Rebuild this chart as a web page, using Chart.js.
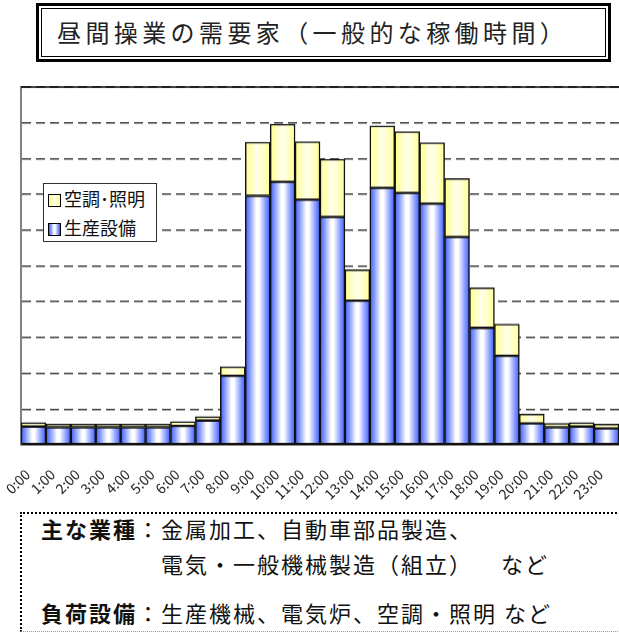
<!DOCTYPE html>
<html>
<head>
<meta charset="utf-8">
<script src="https://cdn.jsdelivr.net/npm/chart.js@4.4.1/dist/chart.umd.min.js"></script>
<style>
  body { margin: 0; background: #fff; font-family: "Noto Sans CJK JP", sans-serif; color: #111; }
  #title { position: absolute; left: 36px; top: 3px; width: 575px; height: 59px; box-sizing: border-box;
           border: 3px solid #000; padding: 2px; }
  #title .inner { box-sizing: border-box; width: 100%; height: 100%; border: 1.5px solid #000;
                  font-size: 24px; line-height: 46px; padding-left: 15px; letter-spacing: 4.4px; color: #222; }
  #wrap { position: absolute; left: 0; top: 80px; width: 619px; height: 441px; }
  #legend { position: absolute; left: 43px; top: 183px; width: 114px; height: 59px; box-sizing: border-box;
            border: 1px solid #333; background: #fff; font-size: 18px; line-height: 29px; padding-left: 4px; }
  #legend .sw { display: inline-block; width: 11px; height: 11px; border: 1px solid #000; margin-right: 3px; vertical-align: -1px; }
  #note { position: absolute; left: 20px; top: 512px; width: 620px; height: 120px; box-sizing: border-box;
          border-top: 2px dotted #000; border-left: 2px dotted #000; border-bottom: 1px dotted #999; background: #fff; }
  .ln { position: absolute; font-size: 22px; letter-spacing: 2px; white-space: pre; line-height: 28px; }
  .ln b { font-weight: bold; }
</style>
</head>
<body>
<div id="title"><div class="inner">昼間操業の需要家（一般的な稼働時間）</div></div>
<div id="wrap"><canvas id="chart"></canvas></div>
<div id="legend"></div>
<div id="note">
  <div class="ln" style="left:19px;top:0px"><b>主な業種</b>：金属加工、自動車部品製造、</div>
  <div class="ln" style="left:139px;top:35px">電気・一般機械製造（組立）</div>
  <div class="ln" style="left:479px;top:35px">など</div>
  <div class="ln" style="left:19px;top:84px"><b>負荷設備</b>：生産機械、電気炉、空調・照明 など</div>
</div>
<script>
const hours = ['0:00','1:00','2:00','3:00','4:00','5:00','6:00','7:00','8:00','9:00','10:00','11:00',
               '12:00','13:00','14:00','15:00','16:00','17:00','18:00','19:00','20:00','21:00','22:00','23:00'];
// 生産設備 (bottom of stack)
const production = [5.1,4.9,4.9,4.9,4.9,4.9,5.3,6.8,19.3,69.6,73.5,68.5,
                    63.7,40.3,71.8,70.4,67.4,58.1,32.7,24.9,6.0,4.9,5.1,4.6];
// 空調・照明 (top of stack)
const hvacLighting = [1.1,0.9,0.9,0.9,0.9,0.9,1.2,1.1,2.5,15.0,16.1,16.2,
                      16.1,8.6,17.3,17.1,17.0,16.3,11.2,8.8,2.6,1.1,1.1,1.2];
const seriesNames = ['生産設備', '空調･照明'];
const yMin = 0, yMax = 100, yStep = 10;

const blueStops = [[0,'#3b5bff'],[0.2,'#8ea1ff'],[0.45,'#ffffff'],[0.55,'#ffffff'],[0.8,'#8ea1ff'],[1,'#3b5bff']];
const yellowStops = [[0,'#ffff8c'],[0.45,'#ffffe6'],[0.55,'#ffffe6'],[1,'#ffff94']];

// horizontal shading inside each bar, placed from the chart area
function barFill(stops) {
  return function(ctx) {
    const chart = ctx.chart;
    const a = chart.chartArea;
    if (!a || !isFinite(a.left) || a.right <= a.left) return stops[2][1];
    const w = (a.right - a.left) / hours.length;
    const x0 = a.left + w * ctx.dataIndex;
    const g = chart.ctx.createLinearGradient(x0, 0, x0 + w, 0);
    stops.forEach(s => g.addColorStop(s[0], s[1]));
    return g;
  };
}

function cssGrad(stops) {
  return 'linear-gradient(to right,' + stops.map(s => s[1] + ' ' + (s[0] * 100) + '%').join(',') + ')';
}

// top frame line of the plot area
const frameTop = {
  id: 'frameTop',
  afterDraw(chart) {
    const a = chart.chartArea, c = chart.ctx;
    c.save();
    c.strokeStyle = '#000';
    c.lineWidth = 1.5;
    c.beginPath();
    c.moveTo(a.left, a.top);
    c.lineTo(a.right, a.top);
    c.stroke();
    c.restore();
  }
};

const wrap = document.getElementById('wrap');
const chart = new Chart(document.getElementById('chart'), {
  type: 'bar',
  data: {
    labels: hours,
    datasets: [
      {
        label: seriesNames[0],
        data: production,
        backgroundColor: barFill(blueStops),
        borderColor: '#111',
        borderWidth: 1.5,
        borderSkipped: false
      },
      {
        label: seriesNames[1],
        data: hvacLighting,
        backgroundColor: barFill(yellowStops),
        borderColor: '#111',
        borderWidth: 1.5,
        borderSkipped: false
      }
    ]
  },
  options: {
    responsive: true,
    maintainAspectRatio: false,
    animation: false,
    barPercentage: 1,
    categoryPercentage: 1,
    layout: { padding: { left: 21, top: 7, right: 0, bottom: 0 } },
    plugins: {
      legend: { display: false },
      tooltip: { enabled: false }
    },
    scales: {
      x: {
        stacked: true,
        grid: { display: false },
        border: { display: true, color: '#000', width: 1.5 },
        afterFit: scale => { scale.paddingLeft = 0; scale.paddingRight = 0; },
        ticks: {
          autoSkip: false,
          minRotation: 45,
          maxRotation: 45,
          padding: 13,
          labelOffset: -6,
          color: '#222',
          font: { family: '"Noto Sans CJK JP", sans-serif', size: 14 }
        }
      },
      y: {
        stacked: true,
        min: yMin,
        max: yMax,
        ticks: { display: false, stepSize: yStep },
        grid: {
          drawTicks: false,
          lineWidth: 1.5,
          color: ctx => (ctx.tick && ctx.tick.value === yMin) ? 'rgba(0,0,0,0)' : '#3a3a3a'
        },
        border: { display: true, color: '#808080', width: 2, dash: [9, 5] }
      }
    }
  },
  plugins: [frameTop]
});

// keep the plot bottom on y = 444 of the page
const off = chart.chartArea.bottom - 364;
if (Math.abs(off) > 0.5) {
  wrap.style.height = (wrap.clientHeight - off) + 'px';
  chart.resize();
}

// legend box (top stack first)
const legend = document.getElementById('legend');
[[seriesNames[1], yellowStops], [seriesNames[0], blueStops]].forEach(([name, stops]) => {
  const row = document.createElement('div');
  const sw = document.createElement('span');
  sw.className = 'sw';
  sw.style.background = cssGrad(stops);
  row.appendChild(sw);
  row.appendChild(document.createTextNode(name));
  legend.appendChild(row);
});
</script>
</body>
</html>
